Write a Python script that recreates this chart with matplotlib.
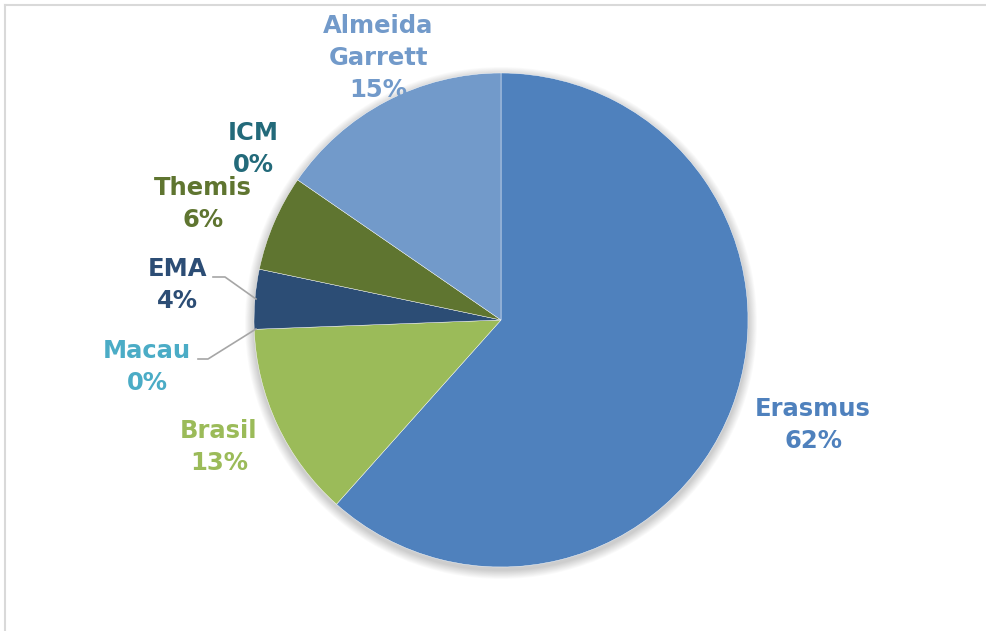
import matplotlib
matplotlib.use("Agg")
import matplotlib.pyplot as plt
from matplotlib.patches import Circle
from matplotlib.lines import Line2D

categories = ["Erasmus", "Brasil", "Macau", "EMA", "Themis", "ICM", "Almeida\nGarrett"]
values = [61.6, 12.8, 0.0, 3.9, 6.3, 0.0, 15.4]
colors = ["#4F81BD", "#9BBB59", "#4BACC6", "#2C4D75", "#5F7530", "#276A7C", "#729ACA"]
text_colors = ["#4F81BD", "#9BBB59", "#4BACC6", "#2C4D75", "#5F7530", "#236A7A", "#729ACA"]

W, H = 987, 631
fig = plt.figure(figsize=(W / 100, H / 100), dpi=100)
ax = fig.add_axes([0, 0, 1, 1])

cx, cy, R = 501, H - 320, 247

# soft shadow
for k in range(10, 0, -1):
    ax.add_patch(Circle((cx, cy - 3), R + k * 0.9, color="#000000",
                        alpha=0.02, lw=0, zorder=0))

wedges, _ = ax.pie(values, colors=colors, startangle=90, counterclock=False,
                   center=(cx, cy), radius=R,
                   wedgeprops=dict(edgecolor="#FFFFFF", linewidth=0.3))
for w, v in zip(wedges, values):
    w.set_zorder(2)
    if v == 0:
        w.set_visible(False)

ax.set_xlim(0, W)
ax.set_ylim(0, H)
ax.set_aspect("equal")
ax.axis("off")

total = sum(values)
# label positions (pixel coordinates, y from top) - layout only
label_pos = [(813, 425), (219, 447), (147, 367), (177, 285), (203, 204), (253, 149), (378, 58)]
for cat, v, tc, (lx, ly) in zip(categories, values, text_colors, label_pos):
    txt = f"{cat}\n{round(v / total * 100):.0f}%"
    ax.text(lx, H - ly, txt, ha="center", va="center", color=tc,
            fontsize=17.5, fontweight="bold", family="DejaVu Sans",
            linespacing=1.42, zorder=5)

# leader lines (EMA, Macau)
lc = "#A6A6A6"
ax.add_line(Line2D([213, 225, 256], [H - 277, H - 277, H - 299], color=lc, lw=1.2, zorder=4))
ax.add_line(Line2D([198, 208, 256], [H - 359, H - 359, H - 329], color=lc, lw=1.2, zorder=4))

# chart frame (top and left visible)
ax.add_line(Line2D([5, W], [H - 5, H - 5], color="#D9D9D9", lw=1.5, zorder=1))
ax.add_line(Line2D([5, 5], [0, H - 5], color="#D9D9D9", lw=1.5, zorder=1))

fig.savefig("out.png", dpi=100)
